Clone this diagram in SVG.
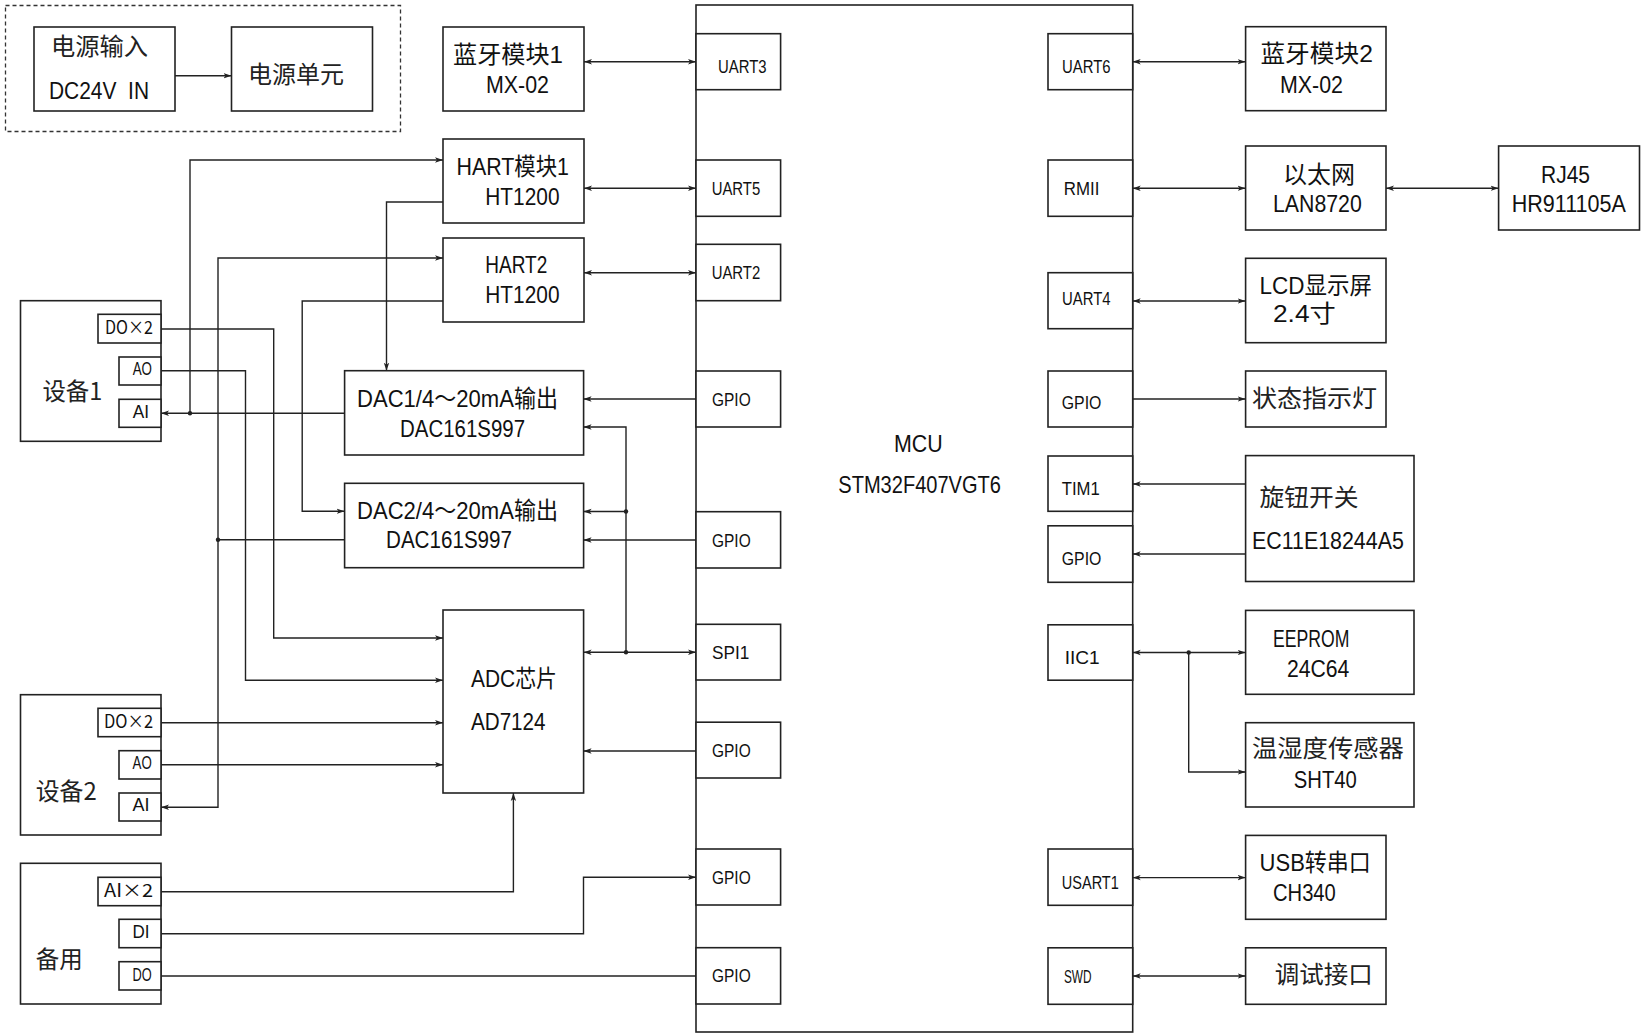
<svg xmlns="http://www.w3.org/2000/svg" width="1646" height="1035" viewBox="0 0 1646 1035">
<style>
.b{fill:#fff;stroke:#222;stroke-width:1.6}
.d{fill:none;stroke:#333;stroke-width:1.3;stroke-dasharray:4 3}
.c{fill:none;stroke:#222;stroke-width:1.4}
.t{font-family:"Liberation Sans","Noto Sans CJK SC",sans-serif;font-size:24px;fill:#111}
.s{font-family:"Liberation Sans","Noto Sans CJK SC",sans-serif;font-size:19px;fill:#111}
.g{font-family:"Liberation Sans","Noto Sans CJK SC",sans-serif;font-size:18px;fill:#111}
.x{font-family:"Noto Sans CJK SC",sans-serif;font-size:18px;fill:#111}
.cj{font-family:"Noto Sans CJK SC",sans-serif;font-size:24px;fill:#222}
.dot{fill:#222}
</style>
<defs>
<marker id="a" viewBox="0 0 8 8" refX="8" refY="4" markerWidth="8" markerHeight="8" markerUnits="userSpaceOnUse" orient="auto-start-reverse">
<path d="M0,1.3 L8,4 L0,6.7 L2,4 z" fill="#222"/>
</marker>
</defs>
<rect width="1646" height="1035" fill="#fff"/>

<g id="power">
<rect class="d" x="5.5" y="5.5" width="395" height="126"/>
</g>
<g id="pwr-in">
<rect class="b" x="34" y="27" width="141" height="84"/>
<text class="cj" x="51" y="55" textLength="97" lengthAdjust="spacingAndGlyphs">电源输入</text>
<text class="t" x="49" y="99" textLength="100" lengthAdjust="spacingAndGlyphs" xml:space="preserve">DC24V  IN</text>
</g>
<g id="pwr-unit">
<rect class="b" x="231.5" y="27" width="141" height="84"/>
<text class="cj" x="248" y="83" textLength="96" lengthAdjust="spacingAndGlyphs">电源单元</text>
</g>
<g id="bt1">
<rect class="b" x="443" y="27" width="141" height="84"/>
<text class="t" x="453" y="62.5" textLength="110" lengthAdjust="spacingAndGlyphs">蓝牙模块1</text>
<text class="t" x="486" y="93" textLength="63" lengthAdjust="spacingAndGlyphs">MX-02</text>
</g>
<g id="hart1">
<rect class="b" x="443" y="139" width="141" height="84"/>
<text class="t" x="456.6" y="175" textLength="112.4" lengthAdjust="spacingAndGlyphs">HART模块1</text>
<text class="t" x="485.3" y="205" textLength="74.2" lengthAdjust="spacingAndGlyphs">HT1200</text>
</g>
<g id="hart2">
<rect class="b" x="443" y="238" width="141" height="84"/>
<text class="t" x="485.3" y="273.3" textLength="62" lengthAdjust="spacingAndGlyphs">HART2</text>
<text class="t" x="485.3" y="303.3" textLength="74.2" lengthAdjust="spacingAndGlyphs">HT1200</text>
</g>
<g id="dac1">
<rect class="b" x="344.6" y="370.7" width="239" height="84.3"/>
<text class="t" x="357" y="406.7" textLength="201" lengthAdjust="spacingAndGlyphs">DAC1/4～20mA输出</text>
<text class="t" x="400" y="436.7" textLength="125" lengthAdjust="spacingAndGlyphs">DAC161S997</text>
</g>
<g id="dac2">
<rect class="b" x="344.6" y="483.3" width="239" height="84.4"/>
<text class="t" x="357" y="519.3" textLength="201" lengthAdjust="spacingAndGlyphs">DAC2/4～20mA输出</text>
<text class="t" x="386" y="548.3" textLength="126" lengthAdjust="spacingAndGlyphs">DAC161S997</text>
</g>
<g id="adc">
<rect class="b" x="443" y="610" width="140.6" height="183"/>
<text class="t" x="471" y="686.7" textLength="86" lengthAdjust="spacingAndGlyphs">ADC芯片</text>
<text class="t" x="471" y="730" textLength="74.5" lengthAdjust="spacingAndGlyphs">AD7124</text>
</g>
<g id="dev1">
<rect class="b" x="20.5" y="300.7" width="140.5" height="140.6"/>
<text class="cj" x="42.4" y="399.5" font-size="23" textLength="60" lengthAdjust="spacingAndGlyphs">设备1</text>
<rect class="b" x="98" y="314.3" width="63" height="28.7"/>
<text class="x" x="105" y="333.5" textLength="48" lengthAdjust="spacingAndGlyphs">DO×2</text>
<rect class="b" x="119" y="357" width="42" height="28"/>
<text class="g" x="132.7" y="375.3" textLength="19.3" lengthAdjust="spacingAndGlyphs">AO</text>
<rect class="b" x="119" y="399.3" width="42" height="28"/>
<text class="g" x="132.7" y="417.7" textLength="16.3" lengthAdjust="spacingAndGlyphs">AI</text>
</g>
<g id="dev2">
<rect class="b" x="20.5" y="694.7" width="140.5" height="140.3"/>
<text class="cj" x="35.7" y="800" font-size="23" textLength="61" lengthAdjust="spacingAndGlyphs">设备2</text>
<rect class="b" x="98" y="708.3" width="63" height="28.4"/>
<text class="x" x="104" y="727.5" textLength="49" lengthAdjust="spacingAndGlyphs">DO×2</text>
<rect class="b" x="119" y="750.7" width="42" height="28.3"/>
<text class="g" x="132.6" y="769" textLength="19.2" lengthAdjust="spacingAndGlyphs">AO</text>
<rect class="b" x="119" y="793" width="42" height="28"/>
<text class="g" x="132.6" y="811" textLength="17" lengthAdjust="spacingAndGlyphs">AI</text>
</g>
<g id="spare">
<rect class="b" x="20.5" y="863.3" width="140.5" height="140.7"/>
<text class="cj" x="35.7" y="968.3" font-size="23" textLength="47" lengthAdjust="spacingAndGlyphs">备用</text>
<rect class="b" x="98" y="877.3" width="63" height="28.4"/>
<text class="x" x="104" y="896.8" textLength="49" lengthAdjust="spacingAndGlyphs">AI×2</text>
<rect class="b" x="119" y="919.3" width="42" height="28.4"/>
<text class="g" x="132.6" y="938.3" textLength="17" lengthAdjust="spacingAndGlyphs">DI</text>
<rect class="b" x="119" y="961.7" width="42" height="28.3"/>
<text class="g" x="132.6" y="980.7" textLength="19.2" lengthAdjust="spacingAndGlyphs">DO</text>
</g>

<g id="mcu">
<rect class="b" x="696" y="5" width="436.7" height="1027"/>
<text class="t" x="894" y="452.3" font-size="31" textLength="48.7" lengthAdjust="spacingAndGlyphs">MCU</text>
<text class="t" x="838.3" y="493.3" font-size="25" textLength="162.7" lengthAdjust="spacingAndGlyphs">STM32F407VGT6</text>
</g>
<g id="mcu-uart3"><rect class="b" x="696" y="33.7" width="84.6" height="56"/><text class="s" x="718" y="72.7" textLength="48.6" lengthAdjust="spacingAndGlyphs">UART3</text></g>
<g id="mcu-uart5"><rect class="b" x="696" y="160" width="84.6" height="56.3"/><text class="s" x="711.7" y="195" textLength="48.5" lengthAdjust="spacingAndGlyphs">UART5</text></g>
<g id="mcu-uart2"><rect class="b" x="696" y="244.3" width="84.6" height="56.4"/><text class="s" x="711.7" y="279.3" textLength="48.5" lengthAdjust="spacingAndGlyphs">UART2</text></g>
<g id="mcu-gpio-l1"><rect class="b" x="696" y="371" width="84.6" height="56"/><text class="g" x="712" y="406" textLength="38.7" lengthAdjust="spacingAndGlyphs">GPIO</text></g>
<g id="mcu-gpio-l2"><rect class="b" x="696" y="511.7" width="84.6" height="56.3"/><text class="g" x="712" y="546.7" textLength="38.7" lengthAdjust="spacingAndGlyphs">GPIO</text></g>
<g id="mcu-spi1"><rect class="b" x="696" y="624.3" width="84.6" height="55.7"/><text class="g" x="712" y="659" textLength="37.3" lengthAdjust="spacingAndGlyphs">SPI1</text></g>
<g id="mcu-gpio-l3"><rect class="b" x="696" y="722.2" width="84.6" height="55.8"/><text class="g" x="712" y="757" textLength="38.7" lengthAdjust="spacingAndGlyphs">GPIO</text></g>
<g id="mcu-gpio-l4"><rect class="b" x="696" y="849" width="84.6" height="56"/><text class="g" x="712" y="884.3" textLength="38.7" lengthAdjust="spacingAndGlyphs">GPIO</text></g>
<g id="mcu-gpio-l5"><rect class="b" x="696" y="947.7" width="84.6" height="56.3"/><text class="g" x="712" y="982.3" textLength="38.7" lengthAdjust="spacingAndGlyphs">GPIO</text></g>
<g id="mcu-uart6"><rect class="b" x="1048" y="33.7" width="84.7" height="56"/><text class="s" x="1062" y="72.7" textLength="48.5" lengthAdjust="spacingAndGlyphs">UART6</text></g>
<g id="mcu-rmii"><rect class="b" x="1048" y="160" width="84.7" height="56.3"/><text class="s" x="1063.8" y="195" textLength="35.6" lengthAdjust="spacingAndGlyphs">RMII</text></g>
<g id="mcu-uart4"><rect class="b" x="1048" y="272.7" width="84.7" height="56"/><text class="s" x="1062" y="305" textLength="48.5" lengthAdjust="spacingAndGlyphs">UART4</text></g>
<g id="mcu-gpio-r1"><rect class="b" x="1048" y="371" width="84.7" height="56"/><text class="g" x="1061.8" y="409.3" textLength="39.6" lengthAdjust="spacingAndGlyphs">GPIO</text></g>
<g id="mcu-tim1"><rect class="b" x="1048" y="456" width="84.7" height="55.3"/><text class="g" x="1061.8" y="495" textLength="38" lengthAdjust="spacingAndGlyphs">TIM1</text></g>
<g id="mcu-gpio-r2"><rect class="b" x="1048" y="525.8" width="84.7" height="56.5"/><text class="g" x="1061.8" y="565" textLength="39.6" lengthAdjust="spacingAndGlyphs">GPIO</text></g>
<g id="mcu-iic1"><rect class="b" x="1048" y="624.8" width="84.7" height="55.4"/><text class="g" x="1064.7" y="664" textLength="35" lengthAdjust="spacingAndGlyphs">IIC1</text></g>
<g id="mcu-usart1"><rect class="b" x="1048" y="849" width="84.7" height="56.3"/><text class="s" x="1061.8" y="888.6" textLength="57" lengthAdjust="spacingAndGlyphs">USART1</text></g>
<g id="mcu-swd"><rect class="b" x="1048" y="947.8" width="84.7" height="56.5"/><text class="s" x="1063.9" y="982.7" textLength="27.6" lengthAdjust="spacingAndGlyphs">SWD</text></g>

<g id="bt2">
<rect class="b" x="1245.6" y="26.7" width="140.4" height="84"/>
<text class="t" x="1260.4" y="62.3" textLength="112.5" lengthAdjust="spacingAndGlyphs">蓝牙模块2</text>
<text class="t" x="1280" y="93" textLength="63" lengthAdjust="spacingAndGlyphs">MX-02</text>
</g>
<g id="eth">
<rect class="b" x="1245.6" y="146" width="140.4" height="84"/>
<text class="t" x="1283" y="182.7" textLength="72" lengthAdjust="spacingAndGlyphs">以太网</text>
<text class="t" x="1273" y="212.3" textLength="88.8" lengthAdjust="spacingAndGlyphs">LAN8720</text>
</g>
<g id="rj45">
<rect class="b" x="1498.6" y="146" width="140.9" height="84"/>
<text class="t" x="1541" y="182.7" textLength="49" lengthAdjust="spacingAndGlyphs">RJ45</text>
<text class="t" x="1511.7" y="212.3" textLength="114.2" lengthAdjust="spacingAndGlyphs">HR911105A</text>
</g>
<g id="lcd">
<rect class="b" x="1245.6" y="258.3" width="140.4" height="84.4"/>
<text class="t" x="1259.6" y="294.3" textLength="112.4" lengthAdjust="spacingAndGlyphs">LCD显示屏</text>
<text class="t" x="1273" y="321.7" textLength="62.8" lengthAdjust="spacingAndGlyphs">2.4寸</text>
</g>
<g id="led">
<rect class="b" x="1245.6" y="371" width="140.4" height="56"/>
<text class="cj" x="1252" y="407.3" textLength="125" lengthAdjust="spacingAndGlyphs">状态指示灯</text>
</g>
<g id="knob">
<rect class="b" x="1245.6" y="455.6" width="168.4" height="125.9"/>
<text class="cj" x="1259.6" y="505.6" textLength="99" lengthAdjust="spacingAndGlyphs">旋钮开关</text>
<text class="t" x="1252" y="549" textLength="151.8" lengthAdjust="spacingAndGlyphs">EC11E18244A5</text>
</g>
<g id="eeprom">
<rect class="b" x="1245.6" y="610.4" width="168.4" height="83.9"/>
<text class="t" x="1273" y="646.8" textLength="76.4" lengthAdjust="spacingAndGlyphs">EEPROM</text>
<text class="t" x="1287" y="677.2" textLength="62.4" lengthAdjust="spacingAndGlyphs">24C64</text>
</g>
<g id="sht40">
<rect class="b" x="1245.6" y="722.7" width="168.4" height="84.3"/>
<text class="cj" x="1252" y="757" textLength="151.8" lengthAdjust="spacingAndGlyphs">温湿度传感器</text>
<text class="t" x="1293.8" y="788.4" textLength="63" lengthAdjust="spacingAndGlyphs">SHT40</text>
</g>
<g id="usb">
<rect class="b" x="1245.6" y="835.4" width="140.4" height="83.9"/>
<text class="t" x="1259.6" y="870.7" textLength="111.2" lengthAdjust="spacingAndGlyphs">USB转串口</text>
<text class="t" x="1273" y="901" textLength="62.8" lengthAdjust="spacingAndGlyphs">CH340</text>
</g>
<g id="debug">
<rect class="b" x="1245.6" y="947.8" width="140.4" height="56.5"/>
<text class="cj" x="1274.8" y="982.7" textLength="98" lengthAdjust="spacingAndGlyphs">调试接口</text>
</g>

<g id="connectors">
<path class="c" d="M175,75.7 H231.5" marker-end="url(#a)"/>
<path class="c" d="M584,61.7 H696" marker-start="url(#a)" marker-end="url(#a)"/>
<path class="c" d="M584,188.3 H696" marker-start="url(#a)" marker-end="url(#a)"/>
<path class="c" d="M584,272.7 H696" marker-start="url(#a)" marker-end="url(#a)"/>
<path class="c" d="M1132.7,61.7 H1245.6" marker-start="url(#a)" marker-end="url(#a)"/>
<path class="c" d="M1132.7,188.3 H1245.6" marker-start="url(#a)" marker-end="url(#a)"/>
<path class="c" d="M1386,188.3 H1498.6" marker-start="url(#a)" marker-end="url(#a)"/>
<path class="c" d="M1132.7,301 H1245.6" marker-start="url(#a)" marker-end="url(#a)"/>
<path class="c" d="M1132.7,399 H1245.6" marker-end="url(#a)"/>
<path class="c" d="M1245.6,484 H1132.7" marker-end="url(#a)"/>
<path class="c" d="M1245.6,554 H1132.7" marker-end="url(#a)"/>
<path class="c" d="M1132.7,652.5 H1245.6" marker-start="url(#a)" marker-end="url(#a)"/>
<path class="c" d="M1188.7,652.5 V772 H1245.6" marker-end="url(#a)"/>
<circle class="dot" cx="1188.7" cy="652.5" r="2.2"/>
<path class="c" d="M1132.7,877.6 H1245.6" marker-start="url(#a)" marker-end="url(#a)"/>
<path class="c" d="M1132.7,976 H1245.6" marker-start="url(#a)" marker-end="url(#a)"/>

<path class="c" d="M696,399 H583.6" marker-end="url(#a)"/>
<path class="c" d="M696,540 H583.6" marker-end="url(#a)"/>
<path class="c" d="M583.6,652.3 H696" marker-start="url(#a)" marker-end="url(#a)"/>
<path class="c" d="M626,652.3 V427 H583.6" marker-end="url(#a)"/>
<path class="c" d="M626,511.5 H583.6" marker-end="url(#a)"/>
<circle class="dot" cx="626" cy="652.3" r="2.2"/>
<circle class="dot" cx="626" cy="511.5" r="2.2"/>
<path class="c" d="M696,751 H583.6" marker-end="url(#a)"/>
<path class="c" d="M161,933.7 H583.5 V877.3 H696" marker-end="url(#a)"/>
<path class="c" d="M161,976 H696"/>
<path class="c" d="M161,891.7 H513.4 V793" marker-end="url(#a)"/>
<path class="c" d="M161,764.7 H443" marker-end="url(#a)"/>
<path class="c" d="M161,722.7 H443" marker-end="url(#a)"/>
<path class="c" d="M161,370.7 H245.5 V680.3 H443" marker-end="url(#a)"/>
<path class="c" d="M161,329 H273.7 V638 H443" marker-end="url(#a)"/>
<path class="c" d="M344.6,413.3 H161" marker-end="url(#a)"/>
<path class="c" d="M190,413.3 V160 H443" marker-end="url(#a)"/>
<circle class="dot" cx="190" cy="413.3" r="2.2"/>
<path class="c" d="M344.6,539.7 H218"/>
<path class="c" d="M218,539.7 V258 H443" marker-end="url(#a)"/>
<path class="c" d="M218,539.7 V807.3 H161" marker-end="url(#a)"/>
<circle class="dot" cx="218" cy="539.7" r="2.2"/>
<path class="c" d="M443,202 H386.5 V370.7" marker-end="url(#a)"/>
<path class="c" d="M443,301 H302.2 V511.3 H344.6" marker-end="url(#a)"/>
</g>
</svg>
